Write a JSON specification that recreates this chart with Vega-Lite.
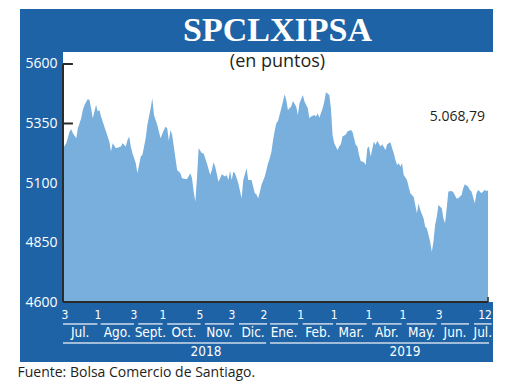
{
  "$schema": "https://vega.github.io/schema/vega-lite/v6.json",
  "width": 473,
  "height": 353,
  "autosize": {"type": "none"},
  "padding": {"left": 20, "top": 9, "right": 27, "bottom": 28},
  "background": "#ffffff",
  "view": {"fill": "#1e63a6", "stroke": null},
  "config": {"axis": {"grid": false}},
  "title": {
    "text": "SPCLXIPSA",
    "subtitle": "(en puntos)",
    "anchor": "middle",
    "offset": -62,
    "dx": 21,
    "font": "Liberation Serif",
    "fontSize": 34,
    "fontWeight": "bold",
    "color": "#ffffff",
    "subtitleFont": "Open Sans",
    "subtitleFontSize": 18,
    "subtitleColor": "#231f20",
    "subtitlePadding": 5
  },
  "datasets": {
    "ipsa": [
      {"i":0,"v":5246},{"i":2,"v":5267},{"i":4,"v":5316},{"i":5,"v":5326},{"i":6,"v":5309},{"i":8,"v":5288},{"i":9,"v":5330},{"i":11,"v":5372},{"i":12,"v":5407},{"i":13,"v":5428},{"i":15,"v":5453},{"i":16,"v":5449},{"i":17,"v":5414},{"i":18,"v":5372},{"i":20,"v":5428},{"i":21,"v":5400},{"i":22,"v":5407},{"i":23,"v":5379},{"i":24,"v":5358},{"i":26,"v":5316},{"i":28,"v":5274},{"i":29,"v":5232},{"i":30,"v":5267},{"i":32,"v":5246},{"i":35,"v":5253},{"i":36,"v":5267},{"i":38,"v":5253},{"i":39,"v":5281},{"i":40,"v":5295},{"i":41,"v":5253},{"i":42,"v":5225},{"i":44,"v":5183},{"i":45,"v":5141},{"i":47,"v":5211},{"i":48,"v":5218},{"i":50,"v":5288},{"i":51,"v":5344},{"i":53,"v":5414},{"i":54,"v":5456},{"i":55,"v":5386},{"i":57,"v":5344},{"i":59,"v":5288},{"i":61,"v":5323},{"i":62,"v":5336},{"i":63,"v":5330},{"i":64,"v":5278},{"i":65,"v":5323},{"i":66,"v":5302},{"i":68,"v":5204},{"i":69,"v":5155},{"i":71,"v":5141},{"i":72,"v":5120},{"i":74,"v":5117},{"i":75,"v":5117},{"i":77,"v":5141},{"i":78,"v":5120},{"i":79,"v":5064},{"i":80,"v":5021},{"i":81,"v":5120},{"i":82,"v":5246},{"i":84,"v":5225},{"i":85,"v":5225},{"i":87,"v":5183},{"i":89,"v":5134},{"i":90,"v":5155},{"i":91,"v":5187},{"i":92,"v":5169},{"i":94,"v":5105},{"i":95,"v":5120},{"i":96,"v":5137},{"i":98,"v":5127},{"i":99,"v":5134},{"i":100,"v":5113},{"i":101,"v":5150},{"i":102,"v":5113},{"i":103,"v":5147},{"i":104,"v":5141},{"i":106,"v":5099},{"i":108,"v":5036},{"i":109,"v":5113},{"i":111,"v":5162},{"i":112,"v":5113},{"i":114,"v":5113},{"i":115,"v":5084},{"i":116,"v":5057},{"i":117,"v":5052},{"i":118,"v":5036},{"i":119,"v":5061},{"i":120,"v":5092},{"i":122,"v":5127},{"i":124,"v":5183},{"i":125,"v":5204},{"i":126,"v":5230},{"i":127,"v":5280},{"i":128,"v":5320},{"i":129,"v":5351},{"i":130,"v":5361},{"i":132,"v":5414},{"i":133,"v":5442},{"i":134,"v":5473},{"i":135,"v":5449},{"i":136,"v":5407},{"i":138,"v":5421},{"i":139,"v":5445},{"i":141,"v":5421},{"i":142,"v":5386},{"i":143,"v":5435},{"i":145,"v":5470},{"i":146,"v":5442},{"i":148,"v":5414},{"i":149,"v":5372},{"i":150,"v":5379},{"i":152,"v":5386},{"i":153,"v":5379},{"i":154,"v":5393},{"i":155,"v":5374},{"i":157,"v":5414},{"i":158,"v":5442},{"i":159,"v":5481},{"i":161,"v":5470},{"i":162,"v":5414},{"i":163,"v":5302},{"i":164,"v":5267},{"i":166,"v":5239},{"i":167,"v":5253},{"i":168,"v":5263},{"i":169,"v":5295},{"i":171,"v":5304},{"i":172,"v":5316},{"i":174,"v":5323},{"i":175,"v":5316},{"i":177,"v":5260},{"i":178,"v":5253},{"i":179,"v":5218},{"i":180,"v":5192},{"i":182,"v":5187},{"i":183,"v":5176},{"i":184,"v":5246},{"i":185,"v":5253},{"i":186,"v":5211},{"i":188,"v":5274},{"i":189,"v":5260},{"i":190,"v":5278},{"i":192,"v":5253},{"i":193,"v":5263},{"i":195,"v":5239},{"i":196,"v":5263},{"i":198,"v":5271},{"i":199,"v":5246},{"i":200,"v":5225},{"i":201,"v":5197},{"i":202,"v":5176},{"i":203,"v":5183},{"i":204,"v":5169},{"i":205,"v":5183},{"i":206,"v":5134},{"i":208,"v":5113},{"i":209,"v":5084},{"i":210,"v":5057},{"i":212,"v":5042},{"i":213,"v":5008},{"i":214,"v":4973},{"i":215,"v":5015},{"i":216,"v":4987},{"i":218,"v":4952},{"i":219,"v":4916},{"i":220,"v":4910},{"i":221,"v":4882},{"i":222,"v":4853},{"i":223,"v":4811},{"i":224,"v":4853},{"i":225,"v":4924},{"i":226,"v":4958},{"i":227,"v":5008},{"i":229,"v":4994},{"i":230,"v":4952},{"i":231,"v":4931},{"i":232,"v":4994},{"i":233,"v":5064},{"i":235,"v":5066},{"i":236,"v":5061},{"i":238,"v":5035},{"i":239,"v":5036},{"i":241,"v":5050},{"i":242,"v":5078},{"i":243,"v":5095},{"i":245,"v":5084},{"i":246,"v":5071},{"i":247,"v":5064},{"i":249,"v":5015},{"i":250,"v":5057},{"i":251,"v":5071},{"i":252,"v":5064},{"i":253,"v":5057},{"i":255,"v":5071},{"i":256,"v":5066},{"i":257,"v":5068.79}
    ],
    "months": [
      {"m":"Jul.","start":0,"end":20.8},{"m":"Ago.","start":22.8,"end":42.9},{"m":"Sept.","start":45.5,"end":60.2},{"m":"Oct.","start":63,"end":83.2},{"m":"Nov.","start":85.8,"end":103.4},{"m":"Dic.","start":106.4,"end":123.4},{"m":"Ene.","start":125.2,"end":142.1},{"m":"Feb.","start":144.9,"end":163.3},{"m":"Mar.","start":165.1,"end":183.6},{"m":"Abr.","start":186.8,"end":204.8},{"m":"May.","start":207.8,"end":225.9},{"m":"Jun.","start":228.6,"end":245.5},{"m":"Jul.","start":248.5,"end":259.2}
    ],
    "days": [
      {"i":1.2,"d":"3"},{"i":21.2,"d":"1"},{"i":42.9,"d":"3"},{"i":60.5,"d":"1"},{"i":82.8,"d":"5"},{"i":102.2,"d":"3"},{"i":121.5,"d":"2"},{"i":143.7,"d":"1"},{"i":163.9,"d":"1"},{"i":185,"d":"1"},{"i":205.6,"d":"1"},{"i":227.4,"d":"3"},{"i":255.2,"d":"12"}
    ],
    "years": [
      {"y":"2018","start":0,"end":122.8},{"y":"2019","start":125.2,"end":257.6}
    ]
  },
  "layer": [
    {
      "data": {"values": [{}]},
      "mark": {"type": "rect", "color": "#ffffff"},
      "encoding": {
        "x": {"datum": 0, "type": "quantitative", "scale": {"domain": [-26, 260], "nice": false, "zero": false}},
        "x2": {"datum": 260},
        "y": {"datum": 4600, "type": "quantitative", "scale": {"domain": [4348, 5831], "nice": false, "zero": false}},
        "y2": {"datum": 5650}
      }
    },
    {
      "data": {"values": [{"t": 4850}, {"t": 5100}, {"t": 5350}, {"t": 5600}]},
      "mark": {"type": "rule", "color": "#2b2b2b", "strokeWidth": 2},
      "encoding": {
        "x": {"datum": 0},
        "x2": {"datum": 6},
        "y": {"field": "t", "type": "quantitative"}
      }
    },
    {
      "data": {"name": "ipsa"},
      "mark": {"type": "area", "color": "#78afdd", "opacity": 1},
      "encoding": {
        "x": {
          "field": "i", "type": "quantitative",
          "scale": {"domain": [-26, 260], "nice": false, "zero": false},
          "axis": {"labels": false, "ticks": false, "domain": false, "grid": false,
            "title": "Fuente: Bolsa Comercio de Santiago.", "titleAnchor": "start", "titleAlign": "left", "titleX": -3,
            "titleFont": "Open Sans", "titleFontSize": 14, "titleFontWeight": "normal", "titleColor": "#231f20", "titlePadding": 3}
        },
        "y": {
          "field": "v", "type": "quantitative",
          "scale": {"domain": [4348, 5831], "nice": false, "zero": false},
          "axis": {"values": [4600, 4850, 5100, 5350, 5600], "format": "d", "offset": -43, "domain": false, "ticks": false, "grid": false,
            "title": null, "labelColor": "#ffffff", "labelFont": "Open Sans", "labelFontSize": 14, "labelPadding": 6}
        },
        "y2": {"datum": 4600}
      }
    },
    {
      "data": {"values": [{}]},
      "mark": {"type": "rule", "color": "#2b2b2b", "strokeWidth": 2},
      "encoding": {"x": {"datum": 0}, "y": {"datum": 4600}, "y2": {"datum": 5600}}
    },
    {
      "data": {"values": [{}]},
      "mark": {"type": "rule", "color": "#2b2b2b", "strokeWidth": 2},
      "encoding": {"x": {"datum": 0}, "x2": {"datum": 257}, "y": {"datum": 4600}}
    },
    {
      "data": {"values": [{}]},
      "mark": {"type": "rule", "color": "#2b2b2b", "strokeWidth": 1.5},
      "encoding": {"x": {"datum": 257}, "y": {"datum": 4600}, "y2": {"datum": 4621}}
    },
    {
      "data": {"name": "months"},
      "mark": {"type": "rule", "color": "#cfdbea", "strokeWidth": 1.5},
      "encoding": {"x": {"field": "start", "type": "quantitative"}, "x2": {"field": "end"}, "y": {"datum": 4508}}
    },
    {
      "data": {"name": "years"},
      "mark": {"type": "rule", "color": "#cfdbea", "strokeWidth": 1.5},
      "encoding": {"x": {"field": "start", "type": "quantitative"}, "x2": {"field": "end"}, "y": {"datum": 4428}}
    },
    {
      "data": {"name": "months"},
      "transform": [{"calculate": "(datum.start + datum.end) / 2", "as": "mid"}],
      "mark": {"type": "text", "color": "#ffffff", "font": "Liberation Sans Narrow, DejaVu Sans Condensed, sans-serif", "fontSize": 13.5, "baseline": "middle"},
      "encoding": {"x": {"field": "mid", "type": "quantitative"}, "y": {"datum": 4470}, "text": {"field": "m"}}
    },
    {
      "data": {"name": "days"},
      "mark": {"type": "text", "color": "#ffffff", "font": "Liberation Sans Narrow, DejaVu Sans Condensed, sans-serif", "fontSize": 12, "baseline": "middle"},
      "encoding": {"x": {"field": "i", "type": "quantitative"}, "y": {"datum": 4545}, "text": {"field": "d"}}
    },
    {
      "data": {"values": [{}]},
      "mark": {"type": "text", "color": "#ffffff", "font": "Liberation Sans Narrow, DejaVu Sans Condensed, sans-serif", "fontSize": 13.5, "baseline": "middle"},
      "encoding": {"x": {"datum": 86.5}, "y": {"datum": 4390}, "text": {"value": "2018"}}
    },
    {
      "data": {"values": [{}]},
      "mark": {"type": "text", "color": "#ffffff", "font": "Liberation Sans Narrow, DejaVu Sans Condensed, sans-serif", "fontSize": 13.5, "baseline": "middle"},
      "encoding": {"x": {"datum": 206.8}, "y": {"datum": 4390}, "text": {"value": "2019"}}
    },
    {
      "data": {"values": [{}]},
      "mark": {"type": "text", "color": "#231f20", "font": "Open Sans", "fontSize": 14, "align": "right", "baseline": "middle"},
      "encoding": {"x": {"datum": 255.2}, "y": {"datum": 5379}, "text": {"value": "5.068,79"}}
    }
  ]
}
